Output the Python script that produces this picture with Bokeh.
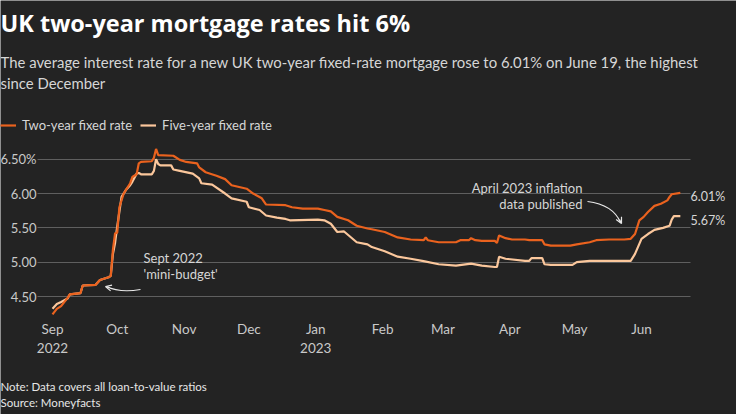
import pandas as pd
from bokeh.plotting import figure
from bokeh.models import (Range1d, FixedTicker, Label, Legend, LegendItem, Arrow,
                          OpenHead, ColumnDataSource)
from bokeh.embed import file_html
from bokeh.resources import INLINE

# ---------------- data ----------------
two_dates = ["2022-09-01", "2022-09-03", "2022-09-05", "2022-09-08", "2022-09-09", "2022-09-14",
             "2022-09-15", "2022-09-21", "2022-09-23", "2022-09-27", "2022-09-28", "2022-09-29",
             "2022-09-30", "2022-10-01", "2022-10-02", "2022-10-04", "2022-10-05", "2022-10-07",
             "2022-10-08", "2022-10-10", "2022-10-11", "2022-10-12", "2022-10-17", "2022-10-18",
             "2022-10-19", "2022-10-20", "2022-10-27", "2022-10-30", "2022-11-02", "2022-11-07",
             "2022-11-08", "2022-11-11", "2022-11-16", "2022-11-20", "2022-11-23", "2022-11-30",
             "2022-12-03", "2022-12-07", "2022-12-09", "2022-12-18", "2022-12-21", "2022-12-26",
             "2023-01-02", "2023-01-05", "2023-01-08", "2023-01-11", "2023-01-16", "2023-01-20",
             "2023-01-25", "2023-01-27", "2023-02-02", "2023-02-08", "2023-02-14", "2023-02-20",
             "2023-02-21", "2023-02-22", "2023-02-27", "2023-03-07", "2023-03-09", "2023-03-13",
             "2023-03-14", "2023-03-16", "2023-03-19", "2023-03-25", "2023-03-26", "2023-03-27",
             "2023-03-30", "2023-04-02", "2023-04-08", "2023-04-10", "2023-04-16", "2023-04-17",
             "2023-04-20", "2023-04-29", "2023-05-02", "2023-05-08", "2023-05-11", "2023-05-17",
             "2023-05-24", "2023-05-27", "2023-05-29", "2023-05-31", "2023-06-02", "2023-06-04",
             "2023-06-07", "2023-06-10", "2023-06-13", "2023-06-14", "2023-06-15", "2023-06-19"]
two_vals = [4.24, 4.32, 4.36, 4.48, 4.53, 4.55,
            4.66, 4.67, 4.74, 4.78, 4.80, 5.18,
            5.42, 5.43, 5.80, 6.00, 6.05, 6.15,
            6.24, 6.28, 6.44, 6.46, 6.47, 6.52,
            6.65, 6.56, 6.55, 6.49, 6.46, 6.44,
            6.38, 6.31, 6.26, 6.21, 6.12, 6.07,
            6.00, 5.93, 5.84, 5.83, 5.80, 5.78,
            5.78, 5.76, 5.74, 5.66, 5.61, 5.53,
            5.49, 5.48, 5.44, 5.36, 5.33, 5.32,
            5.36, 5.32, 5.29, 5.29, 5.32, 5.32,
            5.35, 5.32, 5.31, 5.31, 5.28, 5.39,
            5.35, 5.33, 5.33, 5.32, 5.32, 5.26,
            5.24, 5.24, 5.26, 5.29, 5.32, 5.33,
            5.33, 5.34, 5.41, 5.61, 5.66, 5.73,
            5.82, 5.85, 5.90, 5.95, 5.99, 6.01]

five_dates = ["2022-09-01", "2022-09-03", "2022-09-05", "2022-09-08", "2022-09-09", "2022-09-14",
              "2022-09-15", "2022-09-21", "2022-09-23", "2022-09-27", "2022-09-28", "2022-09-29",
              "2022-09-30", "2022-10-01", "2022-10-03", "2022-10-05", "2022-10-07", "2022-10-08",
              "2022-10-10", "2022-10-11", "2022-10-12", "2022-10-17", "2022-10-18", "2022-10-19",
              "2022-10-20", "2022-10-21", "2022-10-26", "2022-10-27", "2022-10-30", "2022-11-05",
              "2022-11-08", "2022-11-09", "2022-11-14", "2022-11-20", "2022-11-23", "2022-11-30",
              "2022-12-01", "2022-12-06", "2022-12-09", "2022-12-14", "2022-12-18", "2022-12-20",
              "2023-01-02", "2023-01-05", "2023-01-08", "2023-01-11", "2023-01-14", "2023-01-17",
              "2023-01-20", "2023-01-25", "2023-01-27", "2023-02-02", "2023-02-08", "2023-02-14",
              "2023-02-20", "2023-02-27", "2023-03-07", "2023-03-14", "2023-03-19", "2023-03-25",
              "2023-03-26", "2023-03-27", "2023-03-30", "2023-04-08", "2023-04-10", "2023-04-11",
              "2023-04-16", "2023-04-17", "2023-04-20", "2023-04-30", "2023-05-02", "2023-05-08",
              "2023-05-27", "2023-05-29", "2023-06-01", "2023-06-04", "2023-06-07", "2023-06-11",
              "2023-06-14", "2023-06-15", "2023-06-16", "2023-06-19"]
five_vals = [4.32, 4.39, 4.42, 4.47, 4.53, 4.55,
             4.66, 4.67, 4.74, 4.78, 4.80, 5.12,
             5.28, 5.52, 5.95, 6.05, 6.12, 6.17,
             6.29, 6.30, 6.28, 6.28, 6.33, 6.50,
             6.43, 6.41, 6.41, 6.35, 6.33, 6.29,
             6.22, 6.15, 6.13, 6.00, 5.93, 5.88,
             5.80, 5.76, 5.68, 5.65, 5.63, 5.61,
             5.62, 5.61, 5.56, 5.44, 5.45, 5.37,
             5.29, 5.26, 5.22, 5.16, 5.08, 5.05,
             5.015, 4.97, 4.95, 4.98, 4.95, 4.93,
             4.93, 5.08, 5.05, 5.02, 5.02, 5.06,
             5.06, 4.97, 4.96, 4.96, 5.00, 5.02,
             5.02, 5.12, 5.34, 5.41, 5.47, 5.50,
             5.53, 5.62, 5.67, 5.67]

x_tick_dates = ["2022-09-01", "2022-10-01", "2022-11-01", "2022-12-01", "2023-01-01",
                "2023-02-01", "2023-03-01", "2023-04-01", "2023-05-01", "2023-06-01"]
x_tick_labels = ["Sep\n2022", "Oct", "Nov", "Dec", "Jan\n2023", "Feb", "Mar", "Apr", "May", "Jun"]
y_ticks = [4.5, 5.0, 5.5, 6.0, 6.5]
y_tick_labels = ["4.50", "5.00", "5.50", "6.00", "6.50%"]

series_names = ["Two-year fixed rate", "Five-year fixed rate"]
end_labels = ["6.01%", "5.67%"]

# ---------------- styling / geometry (canvas pixels) ----------------
BG = "#232323"
ORANGE = "#ea621e"
PEACH = "#fbc79c"
FONT = "Lato"
TXT = "#d6d6d6"
W, H = 736, 414
AX_X, GRID_END, AX_Y = 37, 690, 318     # y-axis position, gridline end, x-axis position
SEP_PX, PX_PER_DAY = 52, (641 - 52) / 273.0
Y_REF_PX, Y_REF, PX_PER_UNIT = 296, 4.5, 68.65
BASE_FIX = 0.45                          # empirical alphabetic-baseline correction (em)

ms = lambda d: pd.Timestamp(d).value / 1e6
DAY = 86400000.0
x_start = ms("2022-09-01") - SEP_PX / PX_PER_DAY * DAY
x_end = x_start + W / PX_PER_DAY * DAY
y_top = Y_REF + Y_REF_PX / PX_PER_UNIT
y_bot = Y_REF - (H - Y_REF_PX) / PX_PER_UNIT

def cx2data(cx):
    return x_start + cx / W * (x_end - x_start)

def cy2data(cy):
    return y_top - cy / H * (y_top - y_bot)

# the plotting frame covers the whole canvas; axes sit at fixed locations inside it
p = figure(width=W, height=H, x_axis_type="datetime", output_backend="svg",
           toolbar_location=None, x_range=Range1d(x_start, x_end),
           y_range=Range1d(y_bot, y_top), min_border=0)
p.background_fill_color = BG
p.border_fill_color = BG
p.outline_line_color = None

src2 = ColumnDataSource(dict(x=pd.to_datetime(two_dates), y=two_vals))
src5 = ColumnDataSource(dict(x=pd.to_datetime(five_dates), y=five_vals))
r5 = p.line("x", "y", source=src5, line_color=PEACH, line_width=2.2)
r2 = p.line("x", "y", source=src2, line_color=ORANGE, line_width=2.2)

p.xaxis.fixed_location = cy2data(AX_Y)
p.yaxis.fixed_location = cx2data(AX_X)
p.xaxis.ticker = FixedTicker(ticks=[ms(d) for d in x_tick_dates])
p.xaxis.major_label_overrides = {ms(d): l for d, l in zip(x_tick_dates, x_tick_labels)}
p.yaxis.ticker = FixedTicker(ticks=y_ticks)
p.yaxis.major_label_overrides = dict(zip(y_ticks, y_tick_labels))
for ax in (p.xaxis, p.yaxis):
    ax.axis_line_color = None
    ax.major_tick_line_color = None
    ax.minor_tick_line_color = None
    ax.major_tick_out = 0
    ax.major_tick_in = 0
    ax.major_label_text_font = FONT
    ax.major_label_text_color = "#c9c9c9"
p.xaxis.major_label_text_font_size = "13.5px"
p.yaxis.major_label_text_font_size = "13px"
p.xaxis.major_label_standoff = 2
p.yaxis.major_label_standoff = 1
p.xgrid.grid_line_color = None
p.ygrid.grid_line_color = "#5f5f5f"
p.ygrid.grid_line_width = 1
try:
    p.ygrid.cross_bounds = (cx2data(AX_X), cx2data(GRID_END))
except Exception:
    p.ygrid.grid_line_color = None
    p.segment(x0=[cx2data(AX_X)] * len(y_ticks), x1=[cx2data(GRID_END)] * len(y_ticks),
              y0=y_ticks, y1=y_ticks, line_color="#5f5f5f", line_width=1)

def add_text(text, cx, cy, size, color, font=FONT, style="normal", align="left"):
    p.add_layout(Label(x=cx, y=H - cy + BASE_FIX * size, x_units="screen", y_units="screen",
                       text=text, text_font=font, text_font_size=f"{size}px",
                       text_color=color, text_font_style=style, text_align=align,
                       text_baseline="alphabetic"))

# header
add_text("UK two-year mortgage rates hit 6%", 0, 33, 23.5, "#ffffff",
         font="Open Sans", style="bold")
add_text("The average interest rate for a new UK two-year fixed-rate mortgage rose to "
         "6.01% on June 19, the highest", 0, 68, 14.9, TXT)
add_text("since December", 0, 89, 14.9, TXT)

legend = Legend(items=[LegendItem(label=series_names[0], renderers=[r2]),
                       LegendItem(label=series_names[1], renderers=[r5])],
                location=(0, H - 135), orientation="horizontal",
                background_fill_alpha=0, border_line_alpha=0, padding=0, margin=0,
                spacing=8, glyph_width=16, glyph_height=20, label_standoff=6,
                label_height=20, label_text_font=FONT, label_text_font_size="13px",
                label_text_color=TXT)
p.add_layout(legend, "center")

# annotations
add_text("Sept 2022", 143, 263, 13, TXT)
add_text("'mini-budget'", 143, 279.5, 13, TXT)
add_text("April 2023 inflation", 582, 193, 13, TXT, align="right")
add_text("data published", 582, 209, 13, TXT, align="right")
add_text(end_labels[0], 690, 202, 12.5, TXT)
add_text(end_labels[1], 690, 226, 12.5, TXT)

ARW = "#e8e8e8"
p.bezier(x0=[cx2data(140), cx2data(587)], y0=[cy2data(289), cy2data(201)],
         x1=[cx2data(106), cx2data(620)], y1=[cy2data(286), cy2data(222)],
         cx0=[cx2data(128), cx2data(603)], cy0=[cy2data(291), cy2data(203)],
         cx1=[cx2data(116), cx2data(615)], cy1=[cy2data(291), cy2data(210)],
         line_color=ARW, line_width=1.2)
p.add_layout(Arrow(end=OpenHead(size=6, line_color=ARW, line_width=1.2),
                   x_start=cx2data(109), y_start=cy2data(287),
                   x_end=cx2data(105), y_end=cy2data(286),
                   line_color=ARW, line_width=1.2))
p.add_layout(Arrow(end=OpenHead(size=6, line_color=ARW, line_width=1.2),
                   x_start=cx2data(619), y_start=cy2data(219),
                   x_end=cx2data(621), y_end=cy2data(223),
                   line_color=ARW, line_width=1.2))

# footer
add_text("Note: Data covers all loan-to-value ratios", 0, 390.7, 11.5, "#e6e6e6")
add_text("Source: Moneyfacts", 0, 407.3, 11.5, "#e6e6e6")

open("out.html", "w").write(file_html(p, INLINE))
